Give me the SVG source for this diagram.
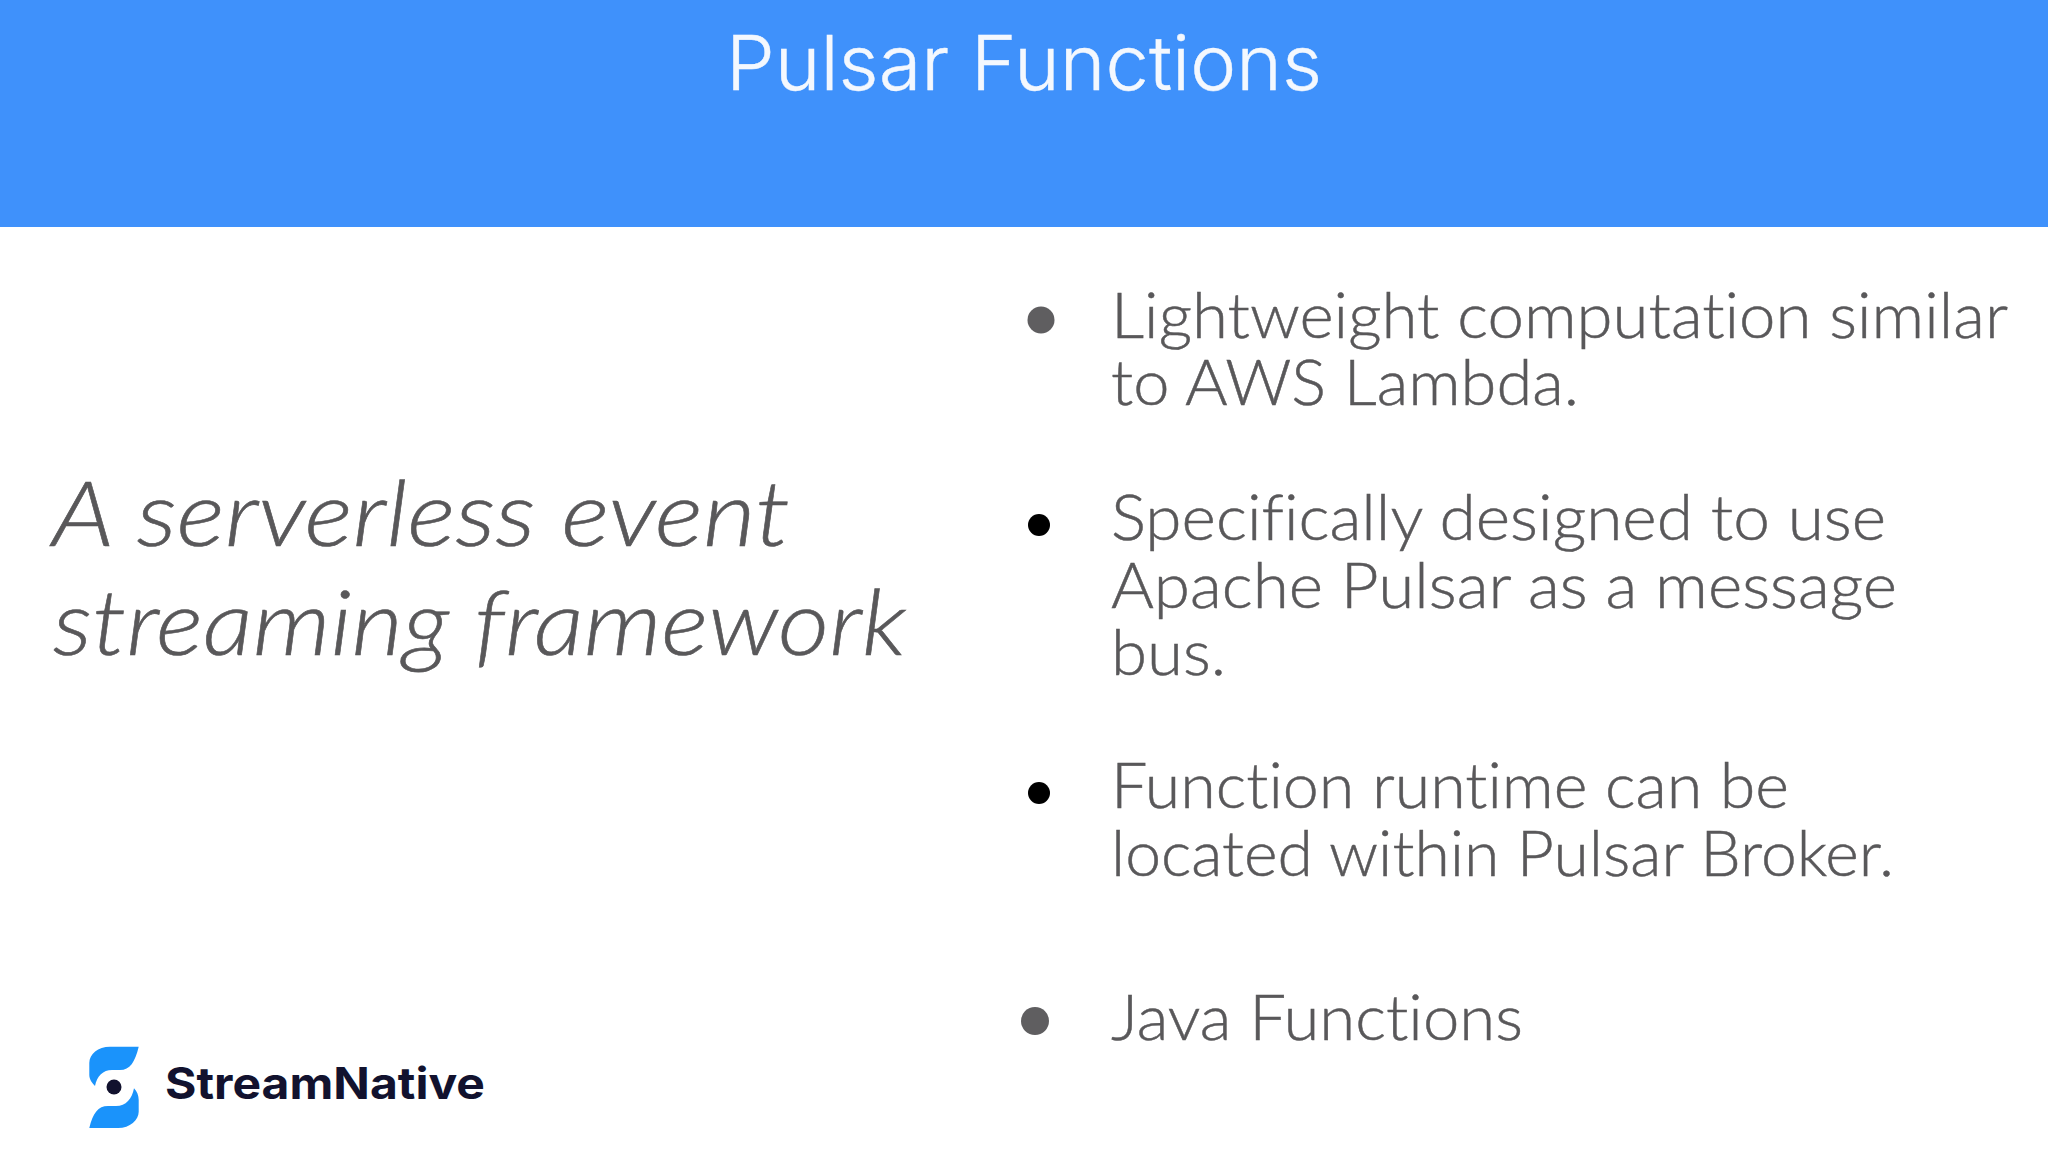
<svg xmlns="http://www.w3.org/2000/svg" width="2048" height="1152" viewBox="0 0 2048 1152">
<style>
.b{font-family:"Lato","Liberation Sans",sans-serif;font-weight:300;font-size:64px;fill:#59585a;stroke:#59585a;stroke-width:.5px;font-variant-ligatures:none}
.i{font-family:"Lato","Liberation Sans",sans-serif;font-weight:300;font-style:italic;font-size:90px;fill:#59585a;stroke:#59585a;stroke-width:.6px;font-variant-ligatures:none}
.d{fill:#5f5e60}.k{fill:#000}
.s{fill:#1a93fb}
</style>
<rect width="2048" height="1152" fill="#fff"/>
<g id="header"><rect width="2048" height="227" fill="#3f91fb"/>
<text x="726" y="90" font-family="Inter,'Liberation Sans',sans-serif" font-weight="300" font-size="76" fill="#f4f8fe" stroke="#f4f8fe" stroke-width=".4" textLength="596" lengthAdjust="spacingAndGlyphs">Pulsar Functions</text></g>
<g id="tagline">
<text class="i" x="52" y="546" textLength="738" lengthAdjust="spacingAndGlyphs">A serverless event</text>
<text class="i" x="53" y="655" textLength="853" lengthAdjust="spacingAndGlyphs">streaming framework</text></g>
<g id="bullet1"><ellipse class="d" cx="1041" cy="320" rx="13.500" ry="13.500"/>
<text class="b" x="1111" y="338" textLength="897" lengthAdjust="spacingAndGlyphs">Lightweight computation similar</text>
<text class="b" x="1111" y="405" textLength="468" lengthAdjust="spacingAndGlyphs">to AWS Lambda.</text></g>
<g id="bullet2"><ellipse class="k" cx="1039" cy="525" rx="11" ry="11"/>
<text class="b" x="1111" y="540" textLength="775" lengthAdjust="spacingAndGlyphs">Specifically designed to use</text>
<text class="b" x="1111" y="608" textLength="786" lengthAdjust="spacingAndGlyphs">Apache Pulsar as a message</text>
<text class="b" x="1111" y="675" textLength="115" lengthAdjust="spacingAndGlyphs">bus.</text></g>
<g id="bullet3"><ellipse class="k" cx="1039" cy="793" rx="11" ry="11"/>
<text class="b" x="1111" y="808" textLength="678" lengthAdjust="spacingAndGlyphs">Function runtime can be</text>
<text class="b" x="1111" y="876" textLength="783" lengthAdjust="spacingAndGlyphs">located within Pulsar Broker.</text></g>
<g id="bullet4"><ellipse class="d" cx="1035" cy="1021" rx="14" ry="14"/>
<text class="b" x="1111" y="1040" textLength="412" lengthAdjust="spacingAndGlyphs">Java Functions</text></g>
<g id="logo">
<path class="s" d="M138.700 1046.700H110C98 1046.700 89.300 1054 89.300 1063V1075C89.300 1079 92 1083 95 1086C97 1076 103 1070 112 1070H120C130 1070 135 1062 138.700 1046.700Z"/>
<path class="s" d="M89.300 1128H118C130 1128 138.700 1120 138.700 1111.700V1100C138.700 1096 137 1091 134 1088.300C132 1099 126 1106 116 1106H108C98 1106 93 1113 89.300 1128Z"/>
<circle cx="114" cy="1087" r="7.500" fill="#12122e"/>
<text x="165" y="1099" font-family="Inter,'Liberation Sans',sans-serif" font-weight="700" font-size="44" fill="#12122e" textLength="320" lengthAdjust="spacingAndGlyphs">StreamNative</text></g>
</svg>
